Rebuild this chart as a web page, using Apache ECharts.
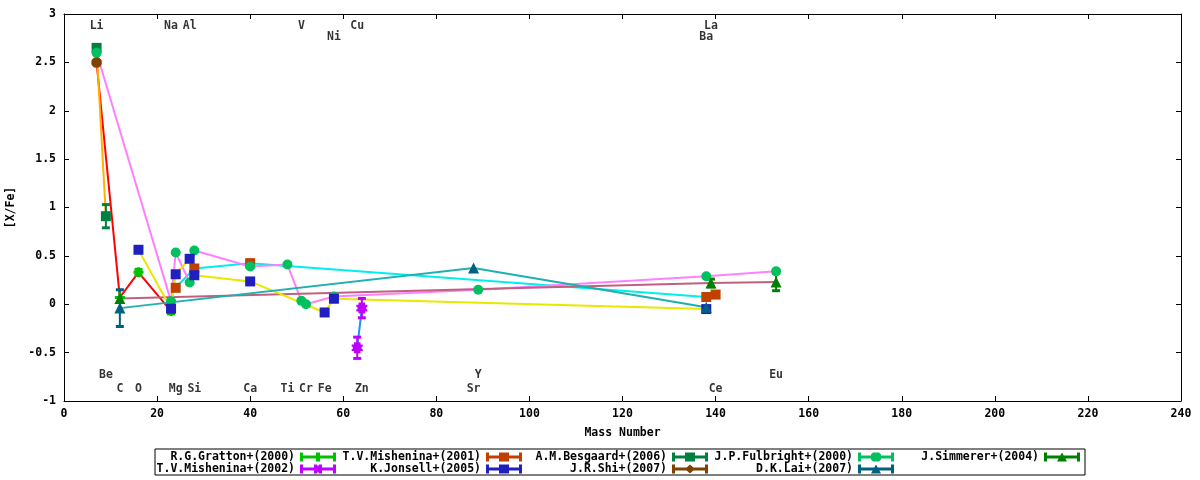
<!DOCTYPE html>
<html>
<head>
<meta charset="utf-8">
<script src="https://cdn.jsdelivr.net/npm/echarts@6/dist/echarts.min.js"></script>
<style>
  html, body { margin: 0; padding: 0; background: #fff; }
  #root { width: 1200px; height: 480px; }
</style>
</head>
<body>
<div id="root"></div>
<script>
// each row: [mass number, [X/Fe], error]
const gratton     = [[7, 2.50, 0], [12, 0.07, 0], [16, 0.33, 0.03], [23, -0.07, 0.03]]
const mishenina01 = [[24, 0.17, 0], [28, 0.37, 0], [40, 0.425, 0], [138, 0.075, 0], [140, 0.10, 0]]
const besgaard    = [[7, 2.65, 0], [9, 0.91, 0.12]]
const fulbright   = [[7, 2.60, 0], [23, 0.03, 0], [24, 0.535, 0], [27, 0.225, 0], [28, 0.556, 0],
                     [40, 0.39, 0], [48, 0.41, 0], [51, 0.035, 0], [52, 0.0, 0], [58, 0.08, 0],
                     [89, 0.15, 0], [138, 0.29, 0], [153, 0.34, 0]]
const simmerer    = [[12, 0.06, 0], [139, 0.22, 0.04], [153, 0.23, 0.09]]
const mishenina02 = [[63, -0.45, 0.11], [64, -0.04, 0.10]]
const jonsell     = [[16, 0.563, 0], [23, -0.046, 0], [24, 0.31, 0], [27, 0.47, 0], [28, 0.30, 0],
                     [40, 0.236, 0], [56, -0.085, 0], [58, 0.057, 0], [138, -0.05, 0]]
const shi         = [[7, 2.50, 0]]
const lai         = [[12, -0.04, 0.19], [88, 0.374, 0], [138, -0.03, 0]]

// element names written on the plot: [name, mass number, y]
const elementLabels = [
  ['Li', 7, 2.88], ['Na', 23, 2.88], ['Al', 27, 2.88], ['V', 51, 2.88], ['Cu', 63, 2.88], ['La', 139, 2.88],
  ['Ni', 58, 2.76], ['Ba', 138, 2.76],
  ['Be', 9, -0.73], ['Y', 89, -0.73], ['Eu', 153, -0.73],
  ['C', 12, -0.88], ['O', 16, -0.88], ['Mg', 24, -0.88], ['Si', 28, -0.88], ['Ca', 40, -0.88],
  ['Ti', 48, -0.88], ['Cr', 52, -0.88], ['Fe', 56, -0.88], ['Zn', 64, -0.88], ['Sr', 88, -0.88], ['Ce', 140, -0.88]
]

const FONT = 'DejaVu Sans Mono'

// legend samples: errorbar with marker in the middle (36 x 9 box)
const bar = 'M0,0h3v3h30v-3h3v9h-3v-3h-30v3h-3z'
const mk = {
  plus: 'M16,0h4v3h4v3h-4v3h-4v-3h-4v-3h4z',
  square: 'M13,0h10v9h-10z',
  circle: 'M15,0h6l2,2v5l-2,2h-6l-2,-2v-5z',
  triangle: 'M18,0l5,9h-10z',
  star: 'M14,0h3l1,2l1,-2h3v3l-2,1.5l2,1.5v3h-3l-1,-2l-1,2h-3v-3l2,-1.5l-2,-1.5z',
  diamond: 'M18,0l5,4.5l-5,4.5l-5,-4.5z'
}
const sym = {
  plus: 'path://M3.5,0h3v3.5h3.5v3h-3.5v3.5h-3v-3.5h-3.5v-3h3.5z',
  square: 'rect',
  circle: 'circle',
  triangle: 'triangle',
  star: 'path://M2,0h6v2h2v2h-1v2h1v2h-2v2h-6v-2h-2v-2h1v-2h-1v-2h2z',
  diamond: 'path://M3,0h6l3,3v6l-3,3h-6l-3,-3v-6z'
}

// [name, data, marker colour, marker, line colour, legend column, legend row]
const studies = [
  ['R.G.Gratton+(2000)', gratton, '#00c000', 'plus', '#ff0000', 0, 0],
  ['T.V.Mishenina+(2001)', mishenina01, '#c04000', 'square', '#00eeee', 1, 0],
  ['A.M.Besgaard+(2006)', besgaard, '#008040', 'square', '#ffb000', 2, 0],
  ['J.P.Fulbright+(2000)', fulbright, '#00c060', 'circle', '#ff80ff', 3, 0],
  ['J.Simmerer+(2004)', simmerer, '#008000', 'triangle', '#c06080', 4, 0],
  ['T.V.Mishenina+(2002)', mishenina02, '#c000ff', 'star', '#1e90ff', 0, 1],
  ['K.Jonsell+(2005)', jonsell, '#2020c0', 'square', '#e8e800', 1, 1],
  ['J.R.Shi+(2007)', shi, '#804000', 'diamond', null, 2, 1],
  ['D.K.Lai+(2007)', lai, '#006080', 'triangle', '#20b0b0', 3, 1]
]
const legendRight = [864, 678, 492, 306, 120]
const legendTop = [451, 463]

const series = []
// connecting lines first, so markers sit on top
studies.forEach(s => {
  if (!s[4]) return
  series.push({
    name: s[0] + ' line', type: 'line', silent: true, symbol: 'none',
    data: s[1].map(p => [p[0], p[1]]),
    lineStyle: { color: s[4], width: 2 }, z: 2
  })
})
studies.forEach(s => {
  const color = s[2]
  series.push({
    name: s[0] + ' err', type: 'custom', silent: true, z: 3,
    data: s[1].filter(p => p[2] > 0),
    encode: { x: 0, y: 1 },
    renderItem: (params, api) => {
      const x = api.value(0), y = api.value(1), e = api.value(2)
      const a = api.coord([x, y + e]), b = api.coord([x, y - e])
      return { type: 'group', children: [
        { type: 'line', shape: { x1: a[0], y1: a[1], x2: b[0], y2: b[1] }, style: { stroke: color, lineWidth: 2 } },
        { type: 'line', shape: { x1: a[0] - 4, y1: a[1], x2: a[0] + 4, y2: a[1] }, style: { stroke: color, lineWidth: 3 } },
        { type: 'line', shape: { x1: b[0] - 4, y1: b[1], x2: b[0] + 4, y2: b[1] }, style: { stroke: color, lineWidth: 3 } }
      ] }
    }
  })
  series.push({
    name: s[0], type: 'scatter', z: 3,
    symbol: sym[s[3]], symbolSize: s[3] === 'triangle' ? 11 : (s[3] === 'star' ? 11 : 10),
    data: s[1].map(p => [p[0], p[1]]),
    itemStyle: { color: color, opacity: 1 }
  })
})
series.push({
  name: 'elements', type: 'scatter', silent: true, z: 4,
  symbol: 'rect', symbolSize: 1, itemStyle: { color: 'rgba(0,0,0,0)' },
  data: elementLabels.map(e => ({ name: e[0], value: [e[1], e[2]] })),
  label: { show: true, position: 'inside', formatter: '{b}', color: '#000',
           fontFamily: FONT, fontWeight: 'bold', fontSize: 11.5 }
})

const legends = studies.map(s => ({
  data: [s[0]], orient: 'horizontal', align: 'right',
  right: legendRight[s[5]], top: legendTop[s[6]], padding: 0,
  itemWidth: 36, itemHeight: 9, itemGap: 0,
  icon: 'path://' + bar + mk[s[3]],
  selectedMode: false,
  textStyle: { fontFamily: FONT, fontWeight: 'bold', fontSize: 11.5, color: '#000' }
}))

const axisText = { fontFamily: FONT, fontWeight: 'bold', fontSize: 11.5, color: '#000' }
const line = { show: true, onZero: false, lineStyle: { color: '#000', width: 1 } }
const tick = { inside: true, length: 5, lineStyle: { color: '#000' } }

const chart = echarts.init(document.getElementById('root'))
chart.setOption({
  animation: false,
  backgroundColor: '#fff',
  grid: { left: 64, right: 19, top: 14, bottom: 79, outerBoundsMode: 'none', containLabel: false },
  legend: legends,
  graphic: [{
    type: 'rect', shape: { x: 155, y: 449, width: 930, height: 26 },
    style: { fill: 'none', stroke: '#000', lineWidth: 1 }, silent: true
  }],
  xAxis: [{
    type: 'value', min: 0, max: 240, interval: 20, position: 'bottom',
    name: 'Mass Number', nameLocation: 'middle', nameGap: 26, nameTextStyle: axisText,
    axisLine: line, axisTick: tick,
    axisLabel: Object.assign({ margin: 7 }, axisText), splitLine: { show: false }
  }, {
    type: 'value', min: 0, max: 240, interval: 20, position: 'top',
    axisLine: line, axisTick: tick,
    axisLabel: { show: false }, splitLine: { show: false }
  }],
  yAxis: [{
    type: 'value', min: -1, max: 3, interval: 0.5, position: 'left',
    name: '[X/Fe]', nameLocation: 'middle', nameGap: 46, nameRotate: 90, nameTextStyle: axisText,
    axisLine: line, axisTick: tick,
    axisLabel: Object.assign({ margin: 8 }, axisText), splitLine: { show: false }
  }, {
    type: 'value', min: -1, max: 3, interval: 0.5, position: 'right',
    axisLine: line, axisTick: tick,
    axisLabel: { show: false }, splitLine: { show: false }
  }],
  series: series
})
</script>
</body>
</html>
